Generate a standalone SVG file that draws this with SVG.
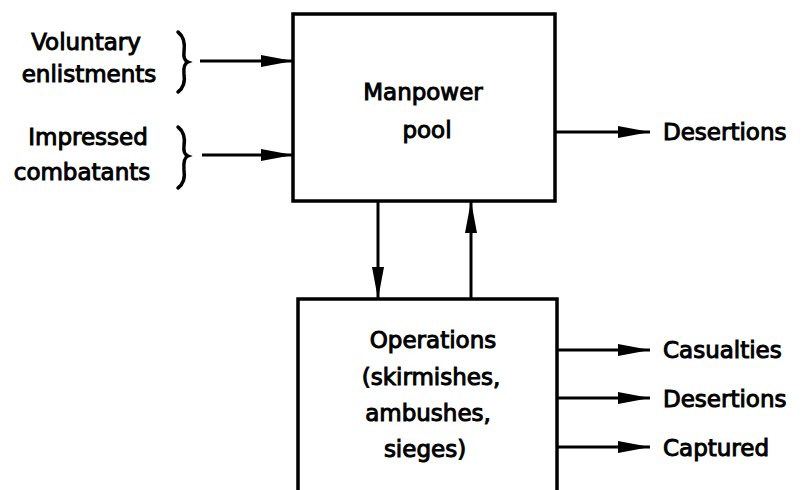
<svg xmlns="http://www.w3.org/2000/svg" width="808" height="490" viewBox="0 0 808 490">
<style>
text{font-family:"DejaVu Sans","Liberation Sans",sans-serif;font-size:23px;fill:#000;stroke:#000;stroke-width:1}
.c{text-anchor:middle}
.box{fill:#fff;stroke:#000;stroke-width:3.5}
.ln{fill:none;stroke:#000;stroke-width:3}
.br{fill:none;stroke:#000;stroke-width:3.5;stroke-linecap:round}
</style>
<defs>
<marker id="ah" markerUnits="userSpaceOnUse" markerWidth="34" markerHeight="14" refX="32" refY="7" orient="auto">
<path d="M0,1 L32,7 L0,13 Z" fill="#000"/>
</marker>
</defs>
<rect width="808" height="490" fill="#fff"/>
<g id="inputs">
<text class="c" x="86" y="50">Voluntary</text>
<text class="c" x="89" y="82">enlistments</text>
<path class="br" d="M178,32 Q186,38 184,52 Q183,60 188,62 Q183,64 184,74 Q186,86 178,92"/>
<text class="c" x="88" y="145">Impressed</text>
<text class="c" x="82" y="180">combatants</text>
<path class="br" d="M178,127 Q186,133 184,146 Q183,154 188,156 Q183,158 184,170 Q186,182 178,188"/>
</g>
<g id="manpower">
<rect class="box" x="293" y="14" width="262" height="187"/>
<text class="c" x="423" y="100">Manpower</text>
<text class="c" x="427" y="138">pool</text>
</g>
<g id="operations">
<rect class="box" x="298" y="299" width="259" height="210"/>
<text class="c" x="433" y="348">Operations</text>
<text class="c" x="431" y="385">(skirmishes,</text>
<text class="c" x="428" y="421">ambushes,</text>
<text class="c" x="425" y="457">sieges)</text>
</g>
<g id="outputs">
<text x="663" y="140">Desertions</text>
<text x="663" y="358">Casualties</text>
<text x="663" y="407">Desertions</text>
<text x="663" y="456">Captured</text>
</g>
<g id="connectors">
<line class="ln" x1="200" y1="61" x2="293" y2="61" marker-end="url(#ah)"/>
<line class="ln" x1="202" y1="155" x2="293" y2="155" marker-end="url(#ah)"/>
<line class="ln" x1="555" y1="132" x2="650" y2="132" marker-end="url(#ah)"/>
<line class="ln" x1="378" y1="201" x2="378" y2="299" marker-end="url(#ah)"/>
<line class="ln" x1="471" y1="299" x2="471" y2="201" marker-end="url(#ah)"/>
<line class="ln" x1="557" y1="350" x2="650" y2="350" marker-end="url(#ah)"/>
<line class="ln" x1="557" y1="398" x2="650" y2="398" marker-end="url(#ah)"/>
<line class="ln" x1="557" y1="447" x2="650" y2="447" marker-end="url(#ah)"/>
</g>
</svg>
